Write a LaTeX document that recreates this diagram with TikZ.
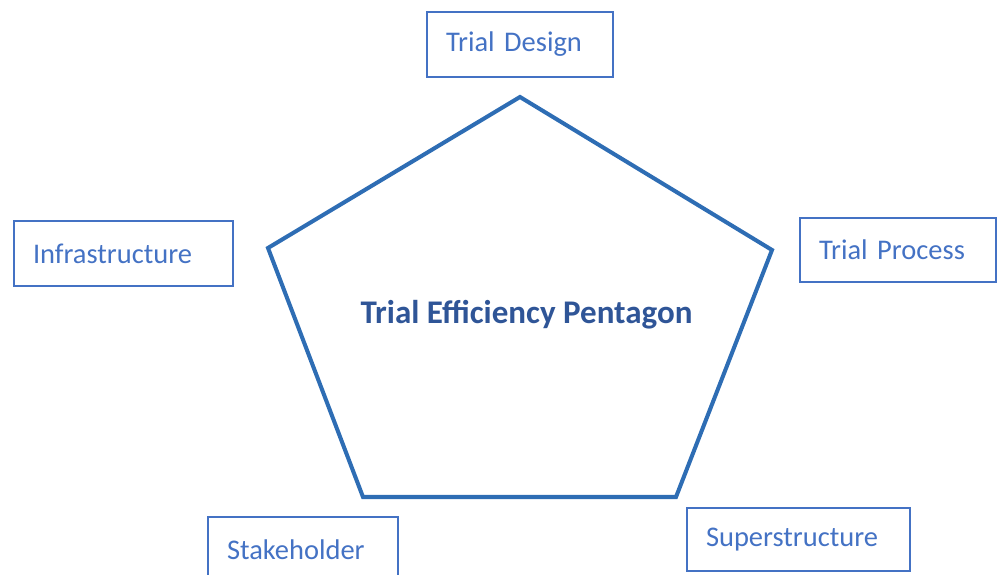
\documentclass[tikz,border=0pt]{standalone}
\usepackage{fontspec}
\setmainfont{Carlito}
\definecolor{boxblue}{HTML}{4472C4}
\definecolor{penblue}{HTML}{2E6DB4}
\definecolor{titleblue}{HTML}{2F5597}

\begin{document}
\begin{tikzpicture}
\tikzset{box/.style = {draw=boxblue, line width=1.2pt, text=boxblue, font=\fontsize{16.2}{19}\selectfont,
  inner xsep=0.38cm, align=left, minimum height=1.3cm}}
\tikzset{title/.style = {text=titleblue, font=\fontsize{18.8}{22}\selectfont\bfseries}}
\useasboundingbox (0,0) rectangle (20,11.5);
% corners of the pentagon
\coordinate (top) at (10.4,9.56);
\coordinate (right) at (15.44,6.5);
\coordinate (botr) at (13.52,1.56);
\coordinate (botl) at (7.26,1.56);
\coordinate (left) at (5.36,6.54);
\draw[penblue, line width=2.3pt, line join=miter] (top) -- (right) -- (botr) -- (botl) -- (left) -- cycle;
\node[title] (centre) at (10.53,5.2) {Trial Efficiency Pentagon};
% the five sides
\node[box, text width=2.96cm] (design) at (10.4,10.61) {Trial Design};
\node[box, text width=3.62cm] (infra) at (2.47,6.43) {Infrastructure};
\node[box, text width=3.16cm, minimum height=1.28cm] (process) at (17.96,6.5) {Trial Process};
\node[box, text width=3.04cm] (stake) at (6.06,0.51) {Stakeholder};
\node[box, text width=3.70cm, minimum height=1.26cm] (super) at (15.97,0.71) {Superstructure};
\end{tikzpicture}
\end{document}
